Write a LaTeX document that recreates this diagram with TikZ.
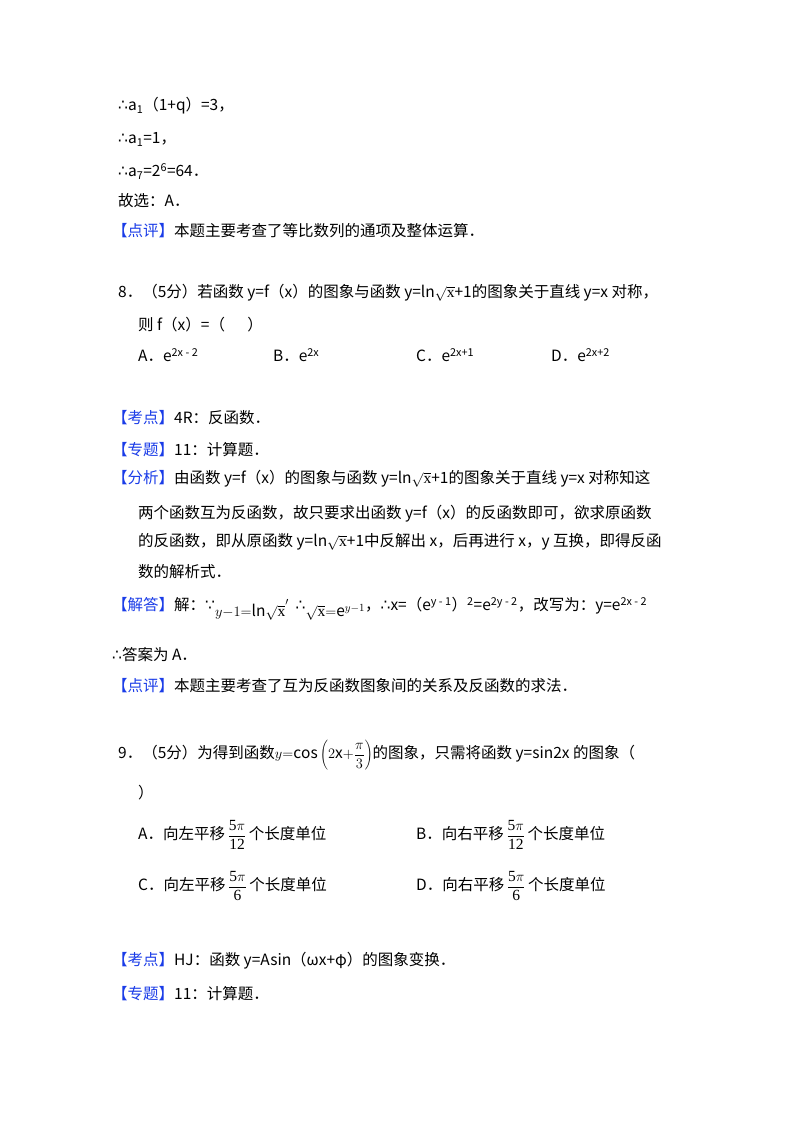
\documentclass[tikz,border=0pt]{standalone}
\usepackage{fontspec}
\setmainfont{Noto Sans CJK SC}
\newfontfamily\ser{Liberation Serif}
\newfontfamily\djv{DejaVu Sans}
\definecolor{kb}{HTML}{1A3CE8}
\newcommand{\K}[1]{\textcolor{kb}{【#1】}}
\newcommand{\sq}[1]{{\ser$\sqrt{\mbox{#1}}$}}
\newcommand{\fr}[2]{\,{\ser$\displaystyle\frac{\mbox{#1}}{\mbox{#2}}$}\,}
\begin{document}
\begin{tikzpicture}[x=1pt,y=1pt,t/.style={anchor=base west,inner sep=0pt,font=\fontsize{15.5}{18}\selectfont}]
\fill[white] (0,0) rectangle (800,1132);
\useasboundingbox (0,0) rectangle (800,1132);
\def\L#1#2#3{\node[t] (n#1) at (#2,{1132-#1}) {#3};}
\L{111}{118}{{\djv∴}a\textsubscript{1}（1+q）=3，}
\L{144}{118}{{\djv∴}a\textsubscript{1}=1，}
\L{177}{118}{{\djv∴}a\textsubscript{7}=2\textsuperscript{6}=64．}
\L{207}{118}{故选：A．}
\L{237}{112}{\K{点评}本题主要考查了等比数列的通项及整体运算．}
\L{298}{118}{8．（5分）若函数 y=f（x）的图象与函数 y=ln\sq{x}+1的图象关于直线 y=x 对称，}
\L{331}{138}{则 f（x）=（\quad\ \ ）}
\L{362}{138}{A．e\textsuperscript{2x - 2}}
\L{362}{273}{B．e\textsuperscript{2x}}
\L{362}{416}{C．e\textsuperscript{2x+1}}
\L{362}{551}{D．e\textsuperscript{2x+2}}
\L{424}{112}{\K{考点}4R：反函数．}
\L{456}{112}{\K{专题}11：计算题．}
\L{484}{112}{\K{分析}由函数 y=f（x）的图象与函数 y=ln\sq{x}+1的图象关于直线 y=x 对称知这}
\L{519}{138}{两个函数互为反函数，故只要求出函数 y=f（x）的反函数即可，欲求原函数}
\L{547}{138}{的反函数，即从原函数 y=ln\sq{x}+1中反解出 x，后再进行 x，y 互换，即得反函}
\L{578}{138}{数的解析式．}
\L{611}{112}{\K{解答}解：{\djv∵}\raisebox{-6pt}{\ser$y{-}1{=}\mathrm{ln}\sqrt{\mbox{x}}$}{\ser$'$}\ \ {\djv∴}\raisebox{-6pt}{\ser$\sqrt{\mbox{x}}{=}\mathrm{e}^{y-1}$}，{\djv∴}x=（e\textsuperscript{y - 1}）\textsuperscript{2}=e\textsuperscript{2y - 2}，改写为：y=e\textsuperscript{2x - 2}}
\L{661}{112}{{\djv∴}答案为 A．}
\L{692}{112}{\K{点评}本题主要考查了互为反函数图象间的关系及反函数的求法．}
\L{759}{118}{9．（5分）为得到函数{\ser$y{=}\mathrm{cos}\left(2\mathrm{x}{+}\displaystyle\frac{\pi}{3}\right)$}的图象，只需将函数 y=sin2x 的图象（}
\L{799}{138}{）}
\L{840}{138}{A．向左平移\fr{5$\pi$}{12}个长度单位}
\L{840}{416}{B．向右平移\fr{5$\pi$}{12}个长度单位}
\L{891}{138}{C．向左平移\fr{5$\pi$}{6}个长度单位}
\L{891}{416}{D．向右平移\fr{5$\pi$}{6}个长度单位}
\L{966}{112}{\K{考点}HJ：函数 y=Asin（ωx+φ）的图象变换．}
\L{1000}{112}{\K{专题}11：计算题．}
\end{tikzpicture}
\end{document}
